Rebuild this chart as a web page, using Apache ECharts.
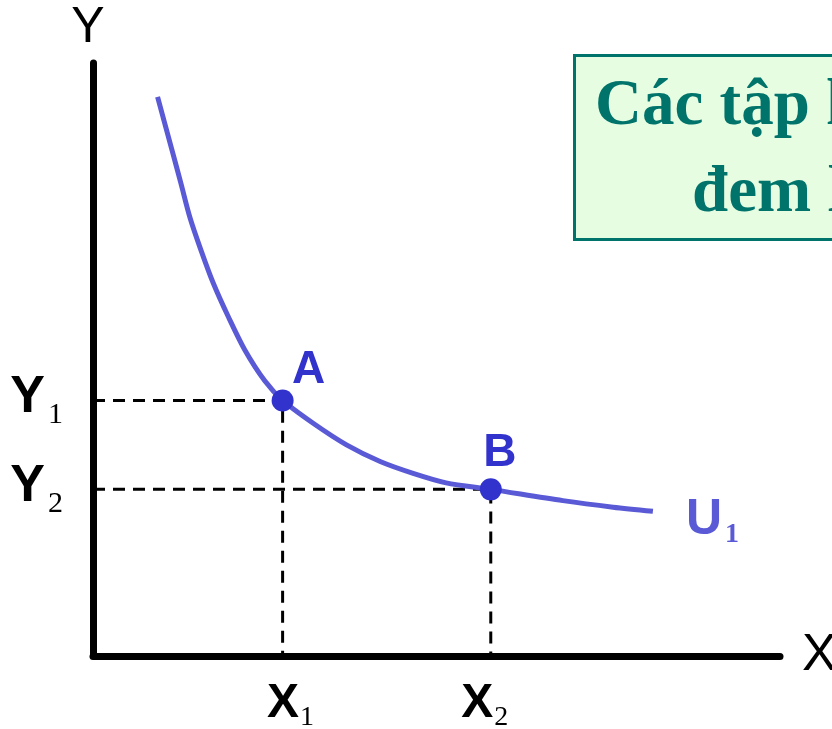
<!DOCTYPE html>
<html>
<head>
<meta charset="utf-8">
<script src="https://cdn.jsdelivr.net/npm/echarts@6/dist/echarts.min.js"></script>
<style>html,body{margin:0;padding:0;background:#fff;}#c{width:832px;height:729px;}</style>
</head>
<body>
<div id="c"></div>
<script>
// Indifference curve U1 (axis units 0..10)
const curveX = [0.94, 1.15, 1.28, 1.41, 1.57, 1.75, 1.97, 2.21, 2.50, 2.76, 3.21, 3.69, 4.18, 4.66, 5.14, 5.79, 6.84, 7.57, 8.15];
const curveY = [9.43, 8.53, 7.97, 7.40, 6.85, 6.29, 5.72, 5.16, 4.64, 4.31, 3.92, 3.56, 3.28, 3.08, 2.92, 2.81, 2.62, 2.51, 2.44];
const curveName = 'U1';
// Bundles A and B
const pointNames = ['A', 'B'];
const pointX = [2.76, 5.79];
const pointY = [4.31, 2.81];
// Axis marker labels
const yMarkLabels = ['Y1', 'Y2'];
const xMarkLabels = ['X1', 'X2'];
const boxLines = ['Các tập hợp hàng hóa', 'đem lại lợi ích như nhau'];

const SANS = 'Liberation Sans, Arial, sans-serif';
const SERIF = 'Liberation Serif, Times New Roman, serif';
const curveColor = '#5a5ad6';
const pointColor = '#3232cc';

function sub(s) { return '{b|' + s[0] + '}{s|' + s.slice(1) + '}'; }

const dashSeries = pointNames.map((n, i) => ({
  type: 'line',
  data: [[0, pointY[i]], [pointX[i], pointY[i]], [pointX[i], 0]],
  symbol: 'none',
  lineStyle: { color: '#000', width: 3, type: [12, 8] },
  z: 1, silent: true
}));

const xOffsets = [[8, 0], [-6, 0]];

const chart = echarts.init(document.getElementById('c'));
chart.setOption({
  animation: false,
  backgroundColor: '#fff',
  grid: { left: 93, top: 63, width: 687, height: 593, containLabel: false, outerBoundsMode: 'none' },
  xAxis: {
    type: 'value', min: 0, max: 10,
    name: 'X', nameLocation: 'end', nameGap: 22,
    nameTextStyle: { fontSize: 52, fontFamily: SANS, color: '#000', verticalAlign: 'middle' },
    axisLine: { show: true, lineStyle: { color: '#000', width: 7 } },
    axisTick: { show: false }, axisLabel: { show: false }, splitLine: { show: false }
  },
  yAxis: {
    type: 'value', min: 0, max: 10,
    name: 'Y', nameLocation: 'end', nameGap: 10,
    nameTextStyle: { fontSize: 50, fontFamily: SANS, color: '#000', padding: [0, 10, 0, 0] },
    axisLine: { show: true, lineStyle: { color: '#000', width: 7 } },
    axisTick: { show: false }, axisLabel: { show: false }, splitLine: { show: false }
  },
  series: [
    ...dashSeries,
    {
      type: 'line',
      data: curveX.map((x, i) => [x, curveY[i]]),
      smooth: 0.3,
      symbol: 'none',
      lineStyle: { color: curveColor, width: 5 },
      z: 2,
      endLabel: {
        show: true,
        formatter: () => '{u|' + curveName[0] + '}{s|' + curveName.slice(1) + '}',
        distance: 33,
        offset: [0, 9],
        rich: {
          u: { fontSize: 50, fontWeight: 'bold', fontFamily: SANS, color: curveColor },
          s: { fontSize: 28, fontWeight: 'bold', fontFamily: SERIF, color: curveColor, padding: [28, 0, 0, 3] }
        }
      }
    },
    {
      type: 'scatter',
      data: pointNames.map((n, i) => ({
        value: [pointX[i], pointY[i]], name: n,
        label: { offset: i === 0 ? [26, 4] : [9, -2] }
      })),
      symbolSize: 22,
      itemStyle: { color: pointColor, opacity: 1 },
      z: 5,
      label: {
        show: true, position: 'top', distance: 0,
        formatter: p => p.name,
        fontSize: 46, fontWeight: 'bold', fontFamily: SANS, color: pointColor
      }
    },
    {
      type: 'scatter',
      symbolSize: 0,
      itemStyle: { opacity: 1 },
      data: yMarkLabels.map((t, i) => ({ value: [0, pointY[i]], name: t })),
      label: {
        show: true, position: 'left', distance: 30, offset: [0, -3],
        formatter: p => sub(p.name),
        rich: {
          b: { fontSize: 52, fontWeight: 'bold', fontFamily: SANS, color: '#000' },
          s: { fontSize: 30, fontFamily: SERIF, color: '#000', padding: [36, 0, 0, 3] }
        }
      },
      silent: true
    },
    {
      type: 'scatter',
      symbolSize: 0,
      itemStyle: { opacity: 1 },
      data: xMarkLabels.map((t, i) => ({ value: [pointX[i], 0], name: t, label: { offset: xOffsets[i] } })),
      label: {
        show: true, position: 'bottom', distance: 20,
        formatter: p => sub(p.name),
        rich: {
          b: { fontSize: 48, fontWeight: 'bold', fontFamily: SANS, color: '#000' },
          s: { fontSize: 28, fontFamily: SERIF, color: '#000', padding: [28, 0, 0, 1] }
        }
      },
      silent: true
    }
  ],
  graphic: [
    {
      type: 'rect', left: 573, top: 54,
      shape: { width: 320, height: 184 },
      style: { fill: '#e6fde2', stroke: '#00736b', lineWidth: 3 }
    },
    {
      type: 'text', left: 595, top: 75,
      style: { text: boxLines[0], font: 'bold 65px ' + SERIF, fill: '#00736b' }
    },
    {
      type: 'text', left: 692, top: 162,
      style: { text: boxLines[1], font: 'bold 65px ' + SERIF, fill: '#00736b' }
    }
  ]
});
</script>
</body>
</html>
